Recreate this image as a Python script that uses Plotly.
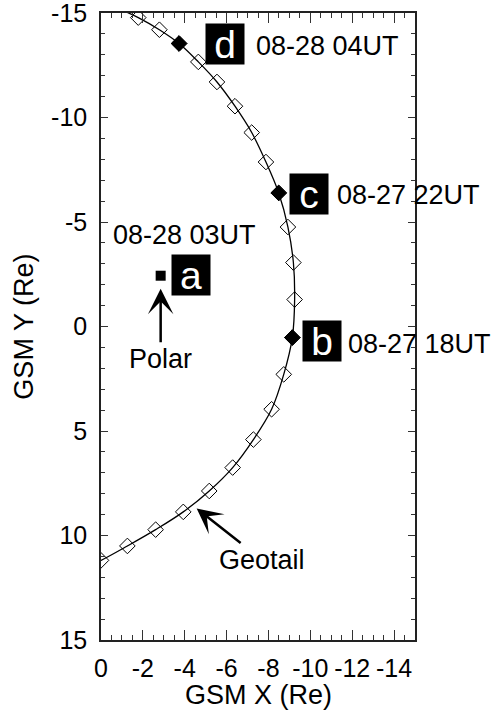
import plotly.graph_objects as go

# Geotail hourly positions in GSM (Re), 08-27 08UT .. 08-28 07UT
geotail_time = ["08-27 08UT", "08-27 09UT", "08-27 10UT", "08-27 11UT", "08-27 12UT",
                "08-27 13UT", "08-27 14UT", "08-27 15UT", "08-27 16UT", "08-27 17UT",
                "08-27 18UT", "08-27 19UT", "08-27 20UT", "08-27 21UT", "08-27 22UT",
                "08-27 23UT", "08-28 00UT", "08-28 01UT", "08-28 02UT", "08-28 03UT",
                "08-28 04UT", "08-28 05UT", "08-28 06UT", "08-28 07UT"]
geotail_x = [1.3, 0.0, -1.26, -2.61, -3.93, -5.17, -6.29, -7.28, -8.15, -8.73,
             -9.14, -9.25, -9.19, -8.93, -8.49, -7.88, -7.20, -6.40, -5.54, -4.65,
             -3.73, -2.79, -1.78, -0.75]
geotail_y = [11.8, 11.19, 10.50, 9.72, 8.87, 7.87, 6.75, 5.41, 3.96, 2.29,
             0.53, -1.29, -3.06, -4.76, -6.39, -7.87, -9.28, -10.54, -11.70, -12.66,
             -13.54, -14.20, -14.78, -15.25]

# Polar position
polar_time = "08-28 03UT"
polar_x = [-2.85]
polar_y = [-2.43]

# Highlighted Geotail times and their panel letters
event_time = ["08-27 18UT", "08-27 22UT", "08-28 04UT"]
event_letter = ["b", "c", "d"]

x_ticks = [0, -2, -4, -6, -8, -10, -12, -14]
y_ticks = [-15, -10, -5, 0, 5, 10, 15]

FONT = "Liberation Sans, Arial, sans-serif"

ev_idx = [geotail_time.index(t) for t in event_time]
ev_x = [geotail_x[i] for i in ev_idx]
ev_y = [geotail_y[i] for i in ev_idx]

fig = go.Figure()

# orbit curve
fig.add_trace(go.Scatter(
    x=geotail_x, y=geotail_y, mode="lines", line=dict(color="black", width=1.3, shape="spline"),
    hoverinfo="skip", showlegend=False))

# hourly markers (inside the plotting range)
fig.add_trace(go.Scatter(
    x=geotail_x[1:-1], y=geotail_y[1:-1], mode="markers",
    marker=dict(symbol="diamond-open", size=12, color="black", line=dict(width=1)),
    text=geotail_time[1:-1], showlegend=False))

# highlighted times
fig.add_trace(go.Scatter(
    x=ev_x, y=ev_y, mode="markers",
    marker=dict(symbol="diamond", size=12, color="black", line=dict(width=1, color="black")),
    text=event_time, showlegend=False))

# Polar
fig.add_trace(go.Scatter(
    x=polar_x, y=polar_y, mode="markers",
    marker=dict(symbol="square", size=10, color="black"),
    text=[polar_time], showlegend=False))

ann = []
box_shift = {"b": (30, -3), "c": (30, -1), "d": (46, 0)}
text_shift = {"b": (54, -6), "c": (56, -2), "d": (75, -2)}
for letter, t, x, y in zip(event_letter, event_time, ev_x, ev_y):
    bx, by = box_shift[letter]
    ann.append(dict(x=x, y=y, xref="x", yref="y", text=letter, showarrow=False,
                    xshift=bx, yshift=by, width=38, height=40, bgcolor="black",
                    borderpad=0, font=dict(family=FONT, size=39, color="white")))
    tx, ty = text_shift[letter]
    ann.append(dict(x=x, y=y, xref="x", yref="y", text=t, showarrow=False,
                    xanchor="left", xshift=tx, yshift=ty,
                    font=dict(family=FONT, size=27, color="black")))

# Polar labels
ann.append(dict(x=polar_x[0], y=polar_y[0], xref="x", yref="y", text="a", showarrow=False,
                xshift=30, yshift=1, width=38, height=40, bgcolor="black", borderpad=0,
                font=dict(family=FONT, size=39, color="white")))
ann.append(dict(x=polar_x[0], y=polar_y[0], xref="x", yref="y", text=polar_time,
                showarrow=False, xshift=24, yshift=41,
                font=dict(family=FONT, size=27, color="black")))
ann.append(dict(x=polar_x[0], y=polar_y[0], xref="x", yref="y", text="Polar",
                showarrow=True, arrowhead=3, arrowsize=1.7, arrowwidth=2.5,
                arrowcolor="black", ax=0, ay=70, yshift=-13, standoff=0,
                font=dict(family=FONT, size=27, color="black")))

# Geotail label with arrow to the orbit
ann.append(dict(x=-4.57, y=8.71, xref="x", yref="y", text="Geotail",
                showarrow=True, arrowhead=3, arrowsize=1.7, arrowwidth=2.5,
                arrowcolor="black", ax=65, ay=51, standoff=0,
                font=dict(family=FONT, size=27, color="black")))

# axis titles placed in paper coordinates
ann.append(dict(x=0.5, y=-0.087, xref="paper", yref="paper", text="GSM X (Re)",
                showarrow=False, xanchor="center", yanchor="middle",
                font=dict(family=FONT, size=27, color="black")))
ann.append(dict(x=-0.248, y=0.5, xref="paper", yref="paper", text="GSM Y (Re)",
                showarrow=False, xanchor="center", yanchor="middle", textangle=-90,
                font=dict(family=FONT, size=27, color="black")))

axis_common = dict(
    showline=True, linecolor="#222", linewidth=1.5, mirror="allticks",
    ticks="inside", tickcolor="#333", tickwidth=1.3,
    showgrid=False, zeroline=False, automargin=False, ticklabeloverflow="allow",
    tickfont=dict(family=FONT, size=25, color="black"),
)

fig.update_xaxes(
    range=[0, -15], tickvals=x_ticks, ticktext=[str(v) for v in x_ticks], ticklen=10,
    minor=dict(dtick=0.5, ticks="inside", ticklen=5, tickcolor="#333", tickwidth=1.2),
    ticklabelstandoff=5,
    **axis_common)
fig.update_yaxes(
    range=[15, -15], tickvals=y_ticks, ticktext=[str(v) for v in y_ticks], ticklen=7,
    minor=dict(dtick=1, ticks="inside", ticklen=4, tickcolor="#333", tickwidth=1.2),
    ticklabelstandoff=7,
    **axis_common)

fig.update_layout(
    width=492, height=711,
    margin=dict(l=101, r=77, t=13, b=71),
    paper_bgcolor="white", plot_bgcolor="white",
    annotations=ann, showlegend=False,
)

fig.write_html("out.html")
